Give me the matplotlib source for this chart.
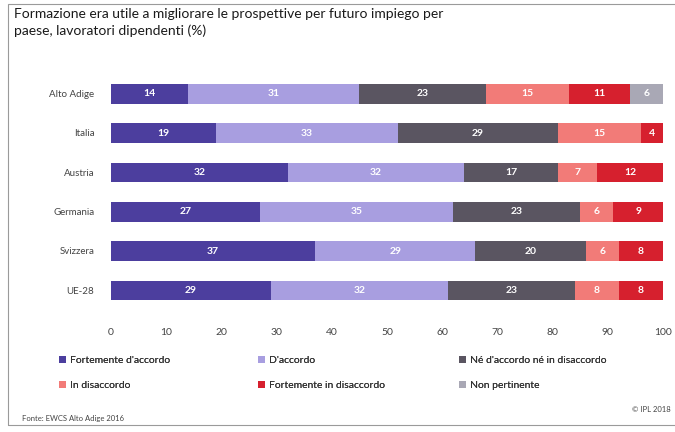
import matplotlib.pyplot as plt
from matplotlib.patches import Patch, Rectangle

plt.rcParams['font.family'] = ['Lato', 'DejaVu Sans']

paesi = ["Alto Adige", "Italia", "Austria", "Germania", "Svizzera", "UE-28"]

risposte = ["Fortemente d'accordo", "D'accordo", "Né d'accordo né in disaccordo",
            "In disaccordo", "Fortemente in disaccordo", "Non pertinente"]

forte_accordo = [14, 19, 32, 27, 37, 29]
accordo = [31, 33, 32, 35, 29, 32]
neutro = [23, 29, 17, 23, 20, 23]
disaccordo = [15, 15, 7, 6, 6, 8]
forte_disaccordo = [11, 4, 12, 9, 8, 8]
non_pertinente = [6, 0, 0, 0, 0, 0]

colori = ["#4c3e9e", "#a89ee0", "#5a5561", "#f27b78", "#d6202e", "#a9a8b5"]

serie = [forte_accordo, accordo, neutro, disaccordo, forte_disaccordo, non_pertinente]

fig = plt.figure(figsize=(6.75, 4.32), dpi=100)
ax = fig.add_axes([111 / 675, 1 - 310 / 432, 552 / 675, 236 / 432])

pos = list(range(len(paesi)))
left = [0] * len(paesi)
for vals, col, nome in zip(serie, colori, risposte):
    bars = ax.barh(pos, vals, left=left, height=0.5, color=col, label=nome)
    for b, v in zip(bars, vals):
        if v > 0:
            ax.text(b.get_x() + b.get_width() / 2, b.get_y() + b.get_height() / 2,
                    str(v), ha="center", va="center", color="white",
                    fontsize=7.5, fontweight="bold")
    left = [l + v for l, v in zip(left, vals)]

ax.set_xlim(0, 100)
ax.set_ylim(5.5, -0.5)
ax.set_yticks(pos)
ax.set_yticklabels(paesi, fontsize=7, color="#444444")
ax.set_xticks(range(0, 101, 10))
ax.tick_params(axis="x", length=0, pad=13, labelsize=7.5, labelcolor="#444444")
ax.tick_params(axis="y", length=0, pad=12)
for s in ax.spines.values():
    s.set_visible(False)

# legenda in tre colonne
handles = [Patch(facecolor=c) for c in colori]
col_x = [55 / 675, 254 / 675, 455 / 675]
for i, x in enumerate(col_x):
    leg = fig.legend([handles[i], handles[i + 3]], [risposte[i], risposte[i + 3]],
                     loc="upper left", bbox_to_anchor=(x, 1 - 352 / 432),
                     frameon=False, fontsize=7.5, handlelength=0.7, handleheight=0.7,
                     handletextpad=0.3, labelspacing=1.45, borderaxespad=0,
                     labelcolor="#333333")
    fig.add_artist(leg)

fig.text(14 / 675, 1 - 8 / 432,
         "Formazione era utile a migliorare le prospettive per futuro impiego per\n"
         "paese, lavoratori dipendenti (%)",
         ha="left", va="top", fontsize=10, color="#1a1a1a", linespacing=1.45)

fig.text(22 / 675, 1 - 418 / 432, "Fonte: EWCS Alto Adige 2016",
         ha="left", va="center", fontsize=5.5, color="#444444")
fig.text(671 / 675, 1 - 410 / 432, "© IPL 2018",
         ha="right", va="center", fontsize=5.5, color="#444444")

# cornice
fig.add_artist(Rectangle((8 / 675, 1 - 425 / 432), 1.0, 421 / 432,
                         transform=fig.transFigure, fill=False,
                         edgecolor="#9a9a9a", linewidth=0.8))

fig.savefig("out.png", dpi=100)
